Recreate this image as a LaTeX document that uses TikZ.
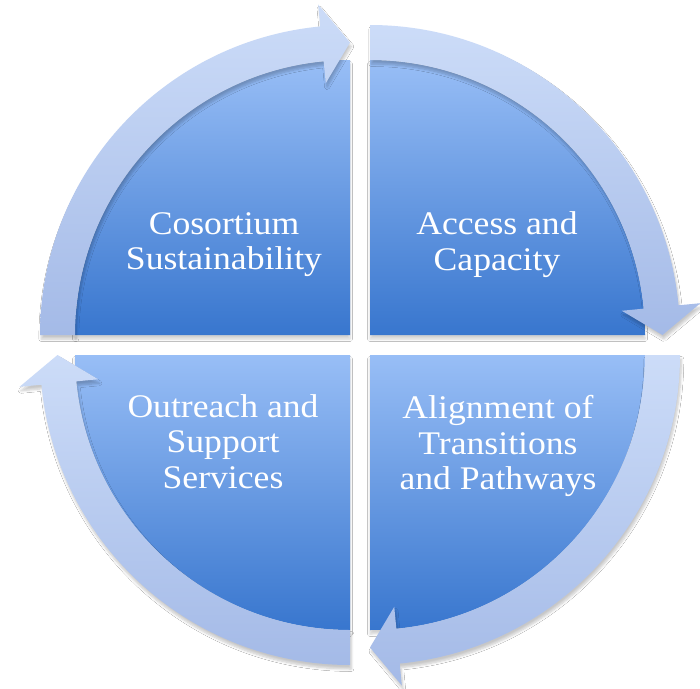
\documentclass[tikz,border=0pt]{standalone}
\usepackage{fontspec}
\setmainfont[FakeStretch=1.08]{Liberation Serif}
\usetikzlibrary{shadows.blur}
\definecolor{pieTop}{RGB}{152,190,246}
\definecolor{pieBot}{RGB}{56,118,206}
\definecolor{ringTop}{RGB}{204,220,248}
\definecolor{ringBot}{RGB}{164,186,231}
\tikzset{
  pie/.style={top color=pieTop, bottom color=pieBot, draw=none,
    blur shadow={shadow xshift=0pt, shadow yshift=-3pt, shadow opacity=18, shadow blur steps=6}},
  ring/.style={top color=ringTop, bottom color=ringBot, draw=none,
    blur shadow={shadow xshift=1pt, shadow yshift=-3pt, shadow opacity=22, shadow blur steps=6}},
  lbl/.style={text=white, align=center, inner sep=0pt,
    font=\fontsize{24.75pt}{26.6pt}\selectfont}
}
\begin{document}
\begin{tikzpicture}[x=0.75pt, y=0.75pt]
  \fill[white, use as bounding box] (0,0) rectangle (700,-689);
  % quadrants
  \begin{scope}[shift={(350,-335)}]
    \path[pie] (0,0) -- (180:275) arc[start angle=180, end angle=90, radius=275] -- cycle;
  \end{scope}
  \begin{scope}[shift={(370,-335)}]
    \path[pie] (0,0) -- (90:275) arc[start angle=90, end angle=0, radius=275] -- cycle;
  \end{scope}
  \begin{scope}[shift={(370,-355)}]
    \path[pie] (0,0) -- (0:275) arc[start angle=0, end angle=-90, radius=275] -- cycle;
  \end{scope}
  \begin{scope}[shift={(350,-355)}]
    \path[pie] (0,0) -- (270:275) arc[start angle=270, end angle=180, radius=275] -- cycle;
  \end{scope}
  % circular arrows
  \begin{scope}[shift={(350,-335)}]
    \path[ring] (180:310) arc[start angle=180, end angle=95.5, radius=310]
      -- (95.5:332) -- (90:292.5) -- (95.5:253) -- (95.5:275)
      arc[start angle=95.5, end angle=180, radius=275] -- cycle;
  \end{scope}
  \begin{scope}[shift={(370,-335)}]
    \path[ring] (90:310) arc[start angle=90, end angle=5.5, radius=310]
      -- (5.5:332) -- (0:292.5) -- (5.5:253) -- (5.5:275)
      arc[start angle=5.5, end angle=90, radius=275] -- cycle;
  \end{scope}
  \begin{scope}[shift={(370,-355)}]
    \path[ring] (0:310) arc[start angle=0, end angle=-84.5, radius=310]
      -- (-84.5:332) -- (-90:292.5) -- (-84.5:253) -- (-84.5:275)
      arc[start angle=-84.5, end angle=0, radius=275] -- cycle;
  \end{scope}
  \begin{scope}[shift={(350,-355)}]
    \path[ring] (270:310) arc[start angle=270, end angle=185.5, radius=310]
      -- (185.5:332) -- (180:292.5) -- (185.5:253) -- (185.5:275)
      arc[start angle=185.5, end angle=270, radius=275] -- cycle;
  \end{scope}
  % labels
  \node[lbl] (tl) at (224,-244.5) {Cosortium\\Sustainability};
  \node[lbl] (tr) at (497,-244.5) {Access and\\Capacity};
  \node[lbl] (bl) at (223,-441.5) {Outreach and\\Support\\Services};
  \node[lbl] (br) at (498,-446) {Alignment of\\Transitions\\and Pathways};
\end{tikzpicture}
\end{document}
